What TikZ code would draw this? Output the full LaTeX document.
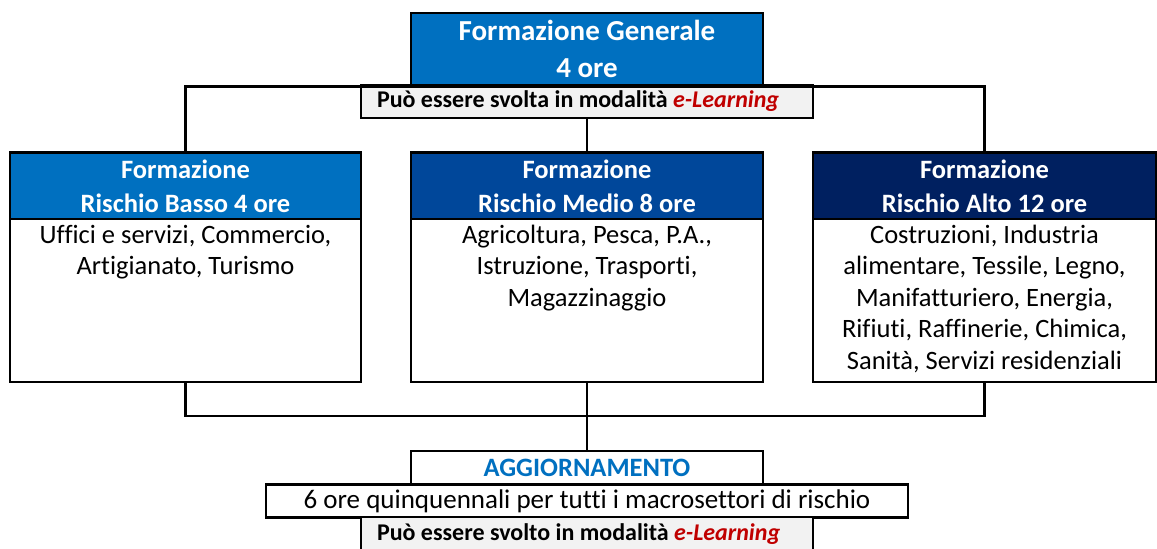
\documentclass[tikz,border=0pt]{standalone}
\usepackage{fontspec}
\setmainfont{Carlito}[Ligatures=NoCommon]
\definecolor{genblue}{HTML}{0070C0}
\definecolor{medblue}{HTML}{00479A}
\definecolor{altonavy}{HTML}{002060}
\definecolor{elred}{HTML}{C00000}
\definecolor{elgray}{HTML}{F2F2F2}

\begin{document}
\begin{tikzpicture}[x=1pt,y=-1pt,
  box/.style={draw,line width=2.5pt,inner sep=0pt,align=center},
  headbox/.style={box,text=white,minimum height=67pt,
    font=\fontsize{26.5}{34}\selectfont\bfseries},
  bodybox/.style={box,fill=white,minimum height=163pt},
  bodytext/.style={inner sep=0pt,align=center,anchor=north,yshift=-7pt,
    execute at begin node=\strut,font=\fontsize{26.5}{31.5}\selectfont},
  elbox/.style={box,fill=elgray,minimum width=452pt,inner xsep=16pt,
    text width=420pt,align=flush left,
    font=\fontsize{24}{28}\selectfont\bfseries},
  conn/.style={line width=2.5pt}]
  \useasboundingbox (0,0) rectangle (1157,549);

  % formazione generale
  \node[box,fill=genblue,text=white,minimum width=352pt,minimum height=72pt,
    font=\fontsize{29}{36.5}\selectfont\bfseries] (gen) at (587,49)
    {Formazione Generale\\4 ore};
  \node[elbox,minimum height=33pt] (elgen) at (587,101.5)
    {Può essere svolta in modalità \textcolor{elred}{\itshape e-Learning}};

  % macrosettori di rischio
  \node[headbox,fill=genblue,minimum width=351pt] (lowhead) at (185.5,186)
    {Formazione\\Rischio Basso 4 ore};
  \node[headbox,fill=medblue,minimum width=352pt] (medhead) at (587,186)
    {Formazione\\Rischio Medio 8 ore};
  \node[headbox,fill=altonavy,minimum width=343pt] (highhead) at (984.5,186)
    {Formazione\\Rischio Alto 12 ore};
  \node[bodybox,minimum width=351pt] (lowbody) at (185.5,300.5) {};
  \node[bodybox,minimum width=352pt] (medbody) at (587,300.5) {};
  \node[bodybox,minimum width=343pt] (highbody) at (984.5,300.5) {};
  \node[bodytext] (lowtext) at (lowbody.north)
    {Uffici e servizi, Commercio,\\Artigianato, Turismo};
  \node[bodytext] (medtext) at (medbody.north)
    {Agricoltura, Pesca, P.A.,\\Istruzione, Trasporti,\\Magazzinaggio};
  \node[bodytext] (hightext) at (highbody.north)
    {Costruzioni, Industria\\alimentare, Tessile, Legno,\\Manifatturiero, Energia,\\
     Rifiuti, Raffinerie, Chimica,\\Sanità, Servizi residenziali};

  % aggiornamento
  \node[box,fill=white,text=genblue,minimum width=352pt,minimum height=34pt,
    font=\fontsize{26.5}{30}\selectfont\bfseries] (agg) at (587,468)
    {AGGIORNAMENTO};
  \node[box,fill=white,minimum width=642pt,minimum height=33pt,
    font=\fontsize{27}{30}\selectfont] (sixore) at (587,501)
    {6 ore quinquennali per tutti i macrosettori di rischio};
  \node[elbox,minimum height=34pt] (elagg) at (587,534)
    {Può essere svolto in modalità \textcolor{elred}{\itshape e-Learning}};

  % collegamenti
  \draw[conn] (lowhead.north) |- (gen.south) -| (highhead.north);
  \draw[conn] (elgen.south) -- (medhead.north);
  \coordinate (join) at (587,416);
  \draw[conn] (lowbody.south) |- (join) -| (highbody.south);
  \draw[conn] (medbody.south) -- (agg.north);
\end{tikzpicture}
\end{document}
